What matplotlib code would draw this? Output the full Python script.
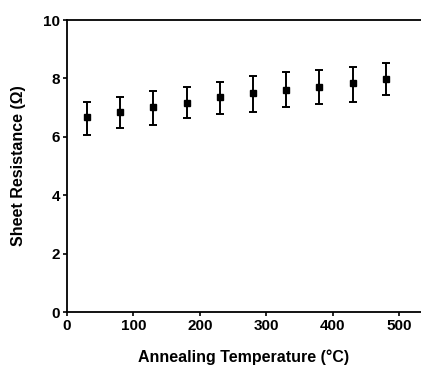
import matplotlib
matplotlib.use("Agg")
import matplotlib.pyplot as plt
import numpy as np

# ── data ─────────────────────────────────────────────────────────────────────
temperature = [30, 80, 130, 180, 230, 280, 330, 380, 430, 480]
resistance  = [6.69, 6.86, 7.03, 7.15, 7.35, 7.51, 7.60, 7.72, 7.83, 7.98]
err_upper   = [7.20, 7.37, 7.58, 7.69, 7.88, 8.10, 8.21, 8.29, 8.40, 8.52]
err_lower   = [6.06, 6.29, 6.40, 6.63, 6.77, 6.84, 7.03, 7.12, 7.20, 7.43]

x_ticks = [0, 100, 200, 300, 400, 500]
y_ticks = [0, 2, 4, 6, 8, 10]

plt.rcParams["font.family"] = ["Liberation Sans", "DejaVu Sans"]
plt.rcParams["font.weight"] = "bold"

fig = plt.figure(figsize=(4.21, 3.71), dpi=100)
ax = fig.add_axes([0.159, 0.159, 0.841, 0.787])

res = np.array(resistance)
yerr = [res - np.array(err_lower), np.array(err_upper) - res]
ax.errorbar(temperature, res, yerr=yerr, fmt="s", color="black",
            markersize=4.5, elinewidth=1.4, capsize=3, capthick=1.4)

ax.set_xlim(0, 533)
ax.set_ylim(0, 10)
ax.set_xticks(x_ticks)
ax.set_yticks(y_ticks)
ax.tick_params(direction="out", length=3, width=1.2, labelsize=11, pad=2)
for lbl in ax.get_xticklabels() + ax.get_yticklabels():
    lbl.set_fontweight("bold")

for side in ("left", "bottom", "top"):
    ax.spines[side].set_linewidth(1.3)
ax.spines["right"].set_visible(False)

ax.set_xlabel("Annealing Temperature (°C)", fontsize=11.5, fontweight="bold", labelpad=12)
ax.set_ylabel("Sheet Resistance (Ω)", fontsize=11.5, fontweight="bold", labelpad=12)

fig.savefig("out.png", dpi=100)
